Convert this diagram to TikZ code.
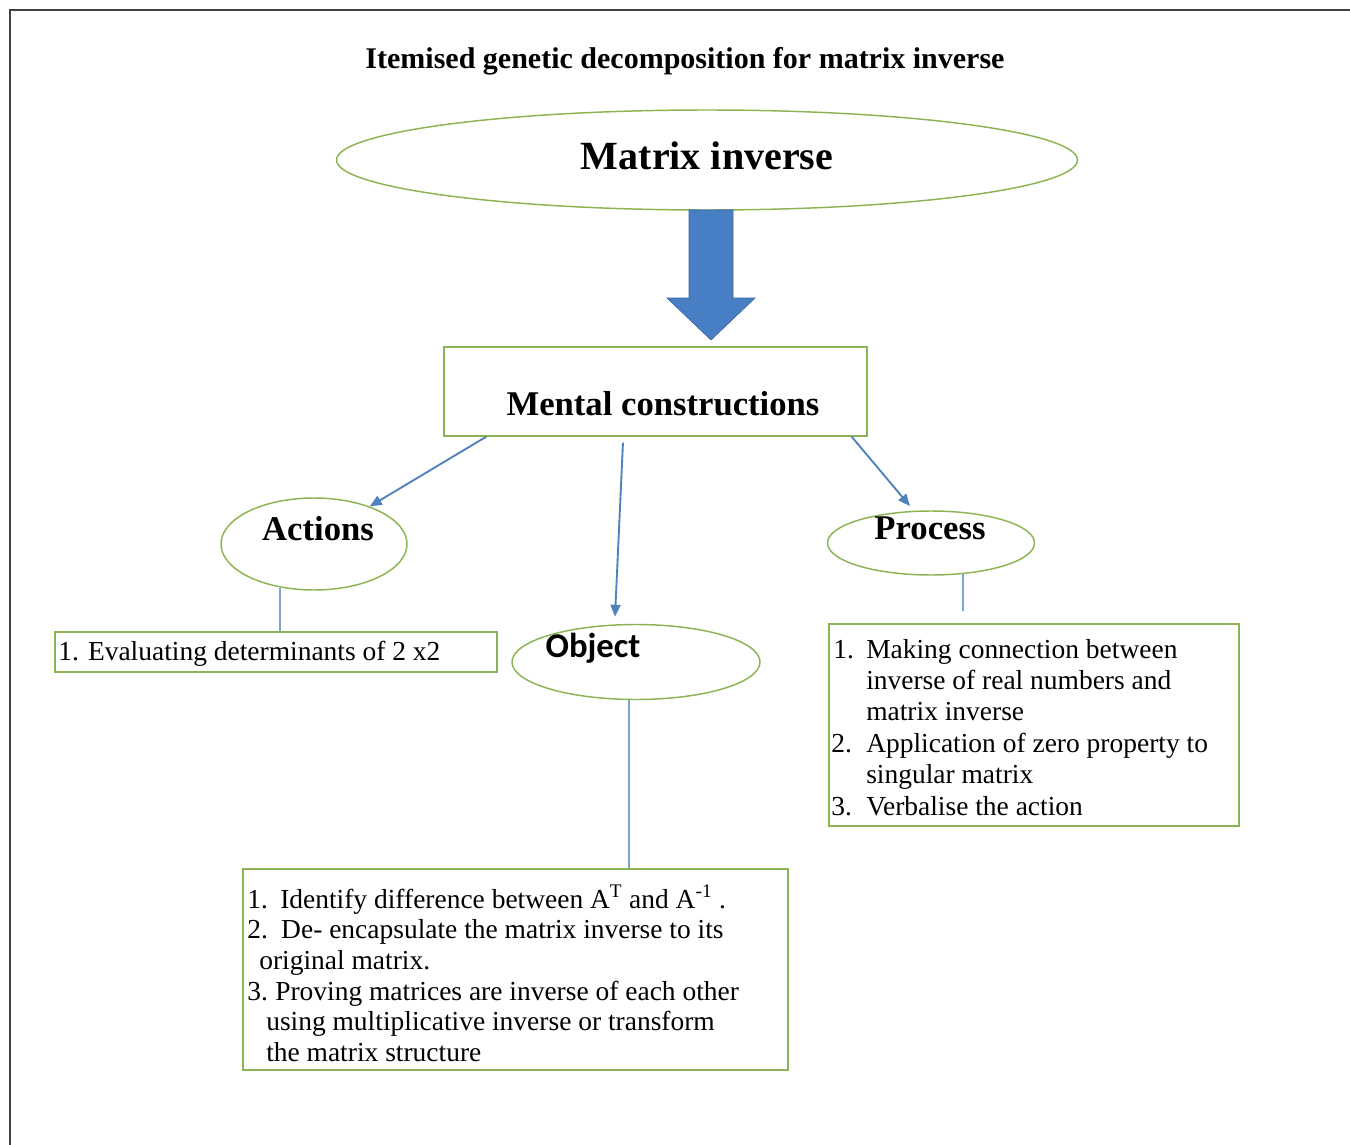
\documentclass[tikz,border=0pt]{standalone}
\usepackage{fontspec}
\setmainfont{Liberation Serif}
\newfontfamily\objfont{Carlito}
\usetikzlibrary{arrows.meta,shapes.geometric,calc}

\definecolor{boxgreen}{RGB}{140,180,84}
\definecolor{linkblue}{RGB}{79,129,189}
\definecolor{thinblue}{RGB}{125,163,210}
\definecolor{arrowfill}{RGB}{72,126,196}
\definecolor{arrowedge}{RGB}{60,105,165}

\begin{document}
\begin{tikzpicture}[x=0.75pt,y=-0.75pt,
  oval/.style={ellipse, draw=boxgreen, line width=1.1pt, inner sep=0pt},
  frame/.style={rectangle, draw=boxgreen, line width=1pt, inner sep=0pt},
  head/.style={font=\bfseries\fontsize{26pt}{30pt}\selectfont, inner sep=0pt, anchor=base},
  body/.style={font=\fontsize{20.6pt}{23.6pt}\selectfont, inner sep=0pt, anchor=base west},
  flow/.style={draw=linkblue, line width=1.4pt, -{Triangle[length=9pt,width=7.5pt]}},
  tie/.style={draw=thinblue, line width=0.8pt},
]
\useasboundingbox (0,0) rectangle (1350,1145);
\fill[white] (0,0) rectangle (1350,1145);

% page frame (top and left edges)
\draw[line width=1.5pt, black!75] (10,1145) -- (10,10) -- (1350,10);

% title
\node[font=\bfseries\fontsize{22.5pt}{26pt}\selectfont, inner sep=0pt, anchor=base]
  (title) at (685,69) {Itemised genetic decomposition for matrix inverse};

% top concept
\node[oval, minimum width=555.75pt, minimum height=75pt] (mi) at (707,160) {};
\node[font=\bfseries\fontsize{30pt}{34pt}\selectfont, inner sep=0pt, anchor=base]
  (mitext) at (707,170) {Matrix inverse};

% mental constructions box
\node[frame, minimum width=317.25pt, minimum height=66.75pt] (mc) at (655.5,391.5) {};
\node[head] (mctext) at (663,415) {Mental constructions};

% big block arrow between them
\fill[arrowfill, draw=arrowedge, line width=0.5pt]
  (689,210) -- (733,210) -- (733,298) -- (755,298) -- (711,340)
  -- (667,298) -- (689,298) -- cycle;

% three kinds of construction
\node[oval, minimum width=139.5pt, minimum height=69pt] (act) at (314,544) {};
\node[head] (acttext) at (318,540) {Actions};

\node[oval, minimum width=186pt, minimum height=56.25pt] (obj) at (636,662) {};
\node[font=\objfont\bfseries\fontsize{26pt}{30pt}\selectfont, inner sep=0pt, anchor=base]
  (objtext) at (593,657) {Object};

\node[oval, minimum width=155.25pt, minimum height=48pt] (proc) at (931,543) {};
\node[head] (proctext) at (930,539) {Process};

% arrows out of the mental constructions box
\draw[flow] ([xshift=32.25pt]mc.south west) -- (act.34);
\draw[flow] ([xshift=-24.4pt,yshift=-4.5pt]mc.south) -- ([xshift=-15.75pt,yshift=5.25pt]obj.north);
\draw[flow, shorten >=4.5pt] ([xshift=-12pt]mc.south east) -- (proc.118);

% item boxes
\node[frame, minimum width=331.5pt, minimum height=30pt] (actbox) at (276,652) {};
\node[body] (actitems) at (58,660) {1. Evaluating determinants of 2 x2};

\node[frame, minimum width=307.5pt, minimum height=151.5pt] (procbox) at (1034,725) {};
\node[body] (procitems) at (833,658) {\begin{tabular}[t]{@{}l@{}}
\makebox[24.75pt][l]{1.}Making connection between\\
\hspace*{24.75pt}inverse of real numbers and\\
\hspace*{24.75pt}matrix inverse\\
\hspace*{-1.5pt}\makebox[26.25pt][l]{2.}Application of zero property to\\
\hspace*{24.75pt}singular matrix\\
\hspace*{-1.5pt}\makebox[26.25pt][l]{3.}Verbalise the action
\end{tabular}};

\node[frame, minimum width=408.75pt, minimum height=150.75pt] (objbox) at (515.5,969.5) {};
\node[body, font=\fontsize{20.6pt}{23pt}\selectfont] (objitems) at (247,908) {\begin{tabular}[t]{@{}l@{}}
\makebox[24.75pt][l]{1.}Identify difference between A\textsuperscript{T} and A\textsuperscript{-1} .\\
\makebox[25.5pt][l]{2.}De- encapsulate the matrix inverse to its\\
\hspace*{9pt}original matrix.\\
\makebox[21pt][l]{3.}Proving matrices are inverse of each other\\
\hspace*{14.25pt}using multiplicative inverse or transform\\
\hspace*{14.25pt}the matrix structure
\end{tabular}};

% links from each construction to its items
\coordinate (actL) at ($(act.south)+(-34,-3)$);
\draw[tie] (actL) -- (actL |- actbox.north);
\coordinate (objL) at ($(obj.south)+(-7,0)$);
\draw[tie] (objL) -- (objL |- objbox.north);
\coordinate (procL) at ($(proc.south)+(32,-2)$);
\draw[tie, shorten >=9pt] (procL) -- (procL |- procbox.north);
\end{tikzpicture}
\end{document}
